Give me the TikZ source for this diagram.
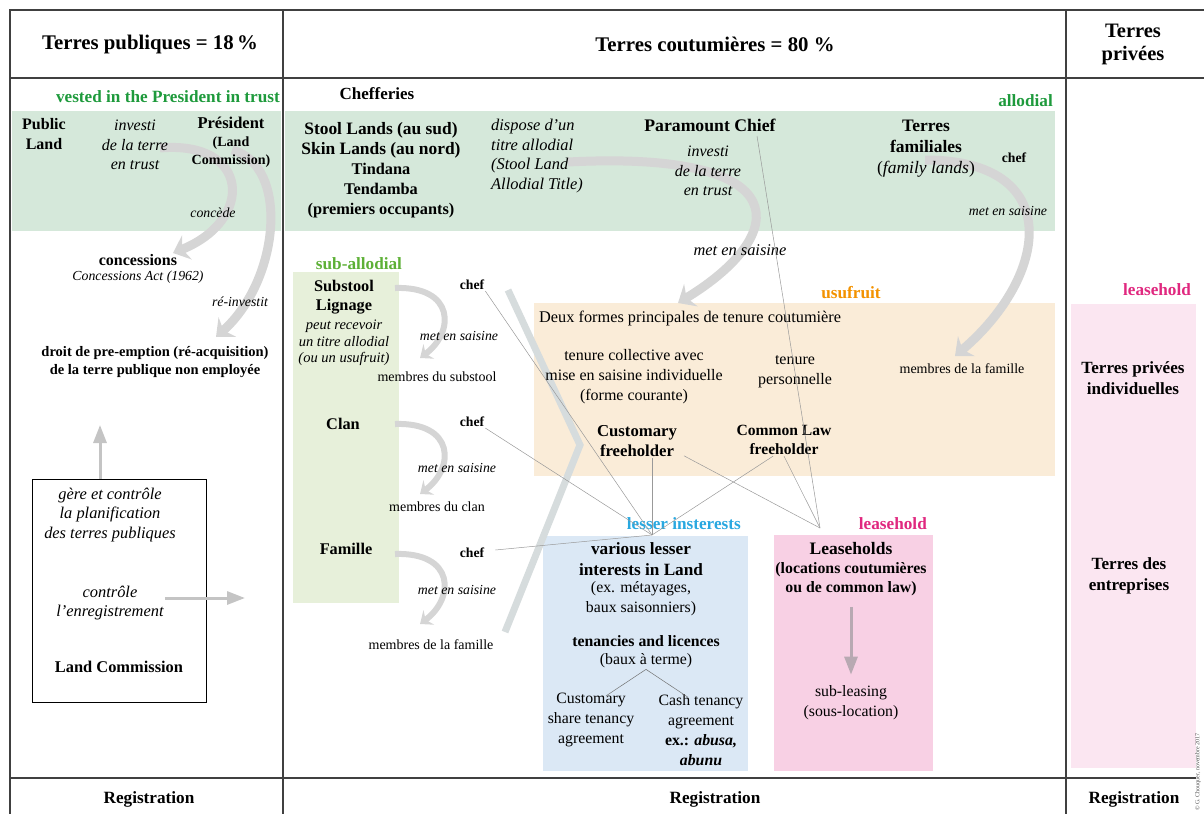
\documentclass[tikz,border=0pt]{standalone}
\usepackage{fontspec}
\setmainfont{Liberation Serif}
\usetikzlibrary{arrows.meta,positioning,calc}

\definecolor{bandgreen}{HTML}{D5E8DA}
\definecolor{subgreen}{HTML}{E7F0DA}
\definecolor{usucol}{HTML}{FAECD8}
\definecolor{lessbox}{HTML}{DBE8F5}
\definecolor{leasebox}{HTML}{F8D0E4}
\definecolor{privbox}{HTML}{FBE6F1}
\definecolor{allgreen}{HTML}{1E9A3C}
\definecolor{subtext}{HTML}{5DB036}
\definecolor{usutext}{HTML}{F39200}
\definecolor{lesstext}{HTML}{29A8E0}
\definecolor{leasetext}{HTML}{E0287F}
\definecolor{arcgray}{HTML}{D5D5D5}
\definecolor{ziggray}{HTML}{D6DCDD}
\definecolor{framegray}{HTML}{404040}
\definecolor{mauvegray}{HTML}{B8A9B2}
\definecolor{arrowgray}{HTML}{C4C4C4}

\begin{document}
\begin{tikzpicture}[x=1pt, y=-1pt, inner sep=1pt,
  hd/.style={font=\bfseries\fontsize{20.8}{23}\selectfont, align=center},
  bl/.style={font=\bfseries\fontsize{16.5}{19.5}\selectfont, align=center},
  rg/.style={font=\fontsize{15.8}{20}\selectfont, align=center},
  it/.style={font=\itshape\fontsize{16}{19.5}\selectfont, align=center},
  sm/.style={font=\itshape\fontsize{13.8}{15}\selectfont},
  mb/.style={font=\fontsize{14}{15}\selectfont},
  chf/.style={font=\bfseries\fontsize{13.7}{15}\selectfont},
  lab/.style={font=\bfseries\fontsize{17.2}{19}\selectfont},
  frame/.style={draw=framegray, line width=1.4pt},
  garc/.style={draw=arcgray, line width=9pt, -{Stealth[length=15pt,width=26pt,inset=5pt]}},
  sarc/.style={draw=arcgray, line width=6pt, -{Stealth[length=11pt,width=18pt,inset=4pt]}},
  garrow/.style={draw=arrowgray, line width=3pt, -{Triangle[length=18pt,width=13pt]}},
  thinline/.style={draw=black!40, line width=0.5pt}]
\useasboundingbox (0,0) rectangle (1204,814);

% fonds colores
\fill[bandgreen] (12,111) rectangle (281,231);
\fill[bandgreen] (285,111) rectangle (1055,231);
\fill[subgreen] (293,272) rectangle (399,603);
\fill[usucol] (534,303) rectangle (1055,476);
\fill[lessbox] (543,536) rectangle (748,771);
\fill[leasebox] (774,535) rectangle (933,771);
\fill[privbox] (1071,304) rectangle (1196,768);

% cadre du tableau
\draw[frame] (1204,10) -- (10,10) -- (10,814);
\draw[frame] (10,78) -- (1204,78);
\draw[frame] (283,10) -- (283,814);
\draw[frame] (1066,10) -- (1066,814);
\draw[frame] (10,778) -- (1196,778);

% grandes fleches grises
\coordinate (a1s) at (160,148); \coordinate (a1e) at (173,253);
\coordinate (a2s) at (232,150); \coordinate (a2e) at (216,337);
\coordinate (a3s) at (568,162); \coordinate (a3e) at (678,303);
\coordinate (a4s) at (925,160); \coordinate (a4e) at (955,356);
\draw[garc] (a1s) .. controls (250,140) and (255,220) .. (a1e);
\draw[garc] (a2s) .. controls (290,165) and (280,280) .. (a2e);
\draw[garc] (a3s) .. controls (800,150) and (790,235) .. (a3e);
\draw[garc] (a4s) .. controls (1065,160) and (1050,275) .. (a4e);
\foreach \y/\n in {288/A, 424/B, 554/C} {
  \coordinate (s\n) at (395,\y);
  \coordinate (e\n) at (420,\y+70);
  \draw[sarc] (s\n) .. controls (455,\y-2) and (455,\y+44) .. (e\n);
}
\draw[draw=ziggray, line width=7pt] (508,290) -- (580,445) -- (505,632);

% en-tetes
\node[hd] (hpub) at (150,44) {Terres publiques = 18\,\%};
\node[hd] (hcout) at (715,44) {Terres coutumières = 80 \%};
\node[hd, font=\bfseries\fontsize{20.5}{23}\selectfont] (hpriv) at (1133,44) {Terres\\privées};
\foreach \x/\n in {149/rega, 715/regb, 1134/regc}
  \node[bl, font=\bfseries\fontsize{17.2}{19}\selectfont] (\n) at (\x,799) {Registration};

% etiquettes de couleur
\node[lab, text=allgreen, anchor=east] (vested) at (281,97) {vested in the President in trust};
\node[lab, text=allgreen, anchor=east] (allod) at (1054,101) {allodial};
\node[lab, text=subtext] (suball) at (359,264) {sub-allodial};
\node[lab, text=usutext] (usuf) at (851,293) {usufruit};
\node[lab, text=lesstext, anchor=east] (lessl) at (742,524) {lesser insterests};
\node[lab, text=leasetext, anchor=east] (leasel) at (928,524) {leasehold};
\node[lab, text=leasetext] (leaser) at (1157,290) {leasehold};

% terres publiques
\node[bl, font=\bfseries\fontsize{16}{19.5}\selectfont] (publand) at (44,134) {Public\\Land};
\node[it] (pinvest) at (135,145) {investi\\de la terre\\en trust};
\node[bl, font=\bfseries\fontsize{16.5}{18}\selectfont] (pres) at (231,142)
  {Président\\{\fontsize{14}{17}\selectfont(Land}\\{\fontsize{14}{17}\selectfont Commission)}};
\node[sm] (concede) at (213,213) {concède};
\node[bl, font=\bfseries\fontsize{16}{19}\selectfont] (conc) at (138,260) {concessions};
\node[sm] (concact) at (138,277) {Concessions Act (1962)};
\node[sm] (reinv) at (240,302) {ré-investit};
\node[bl, font=\bfseries\fontsize{14.5}{18.5}\selectfont] (droit) at (155,362)
  {droit de pre-emption (ré-acquisition)\\de la terre publique non employée};
\node[draw, minimum width=174, minimum height=223] (lcbox) at (119,590.5) {};
\node[it, font=\itshape\fontsize{16.4}{19.5}\selectfont] (gere) at (110,515) {gère et contrôle\\la planification\\des terres publiques};
\node[it, font=\itshape\fontsize{16.4}{19.5}\selectfont] (ctrl) at (110,603) {contrôle\\l’enregistrement};
\node[bl, font=\bfseries\fontsize{16.4}{19}\selectfont] (lcname) at (119,667) {Land Commission};
\coordinate (droitlow) at (100,425);
\coordinate (regto) at (245,598);
\draw[garrow] (lcbox.north -| droitlow) -- (droitlow);
\draw[garrow] (ctrl.east |- regto) -- (regto);

% chefferies
\node[bl, font=\bfseries\fontsize{17}{19}\selectfont] (cheff) at (377,94) {Chefferies};
\node[bl, font=\bfseries\fontsize{17.4}{20}\selectfont] (stool) at (381,170)
  {Stool Lands (au sud)\\Skin Lands (au nord)\\{\fontsize{16.3}{20}\selectfont Tindana}\\{\fontsize{16.3}{20}\selectfont Tendamba}\\{\fontsize{16.3}{20}\selectfont(premiers occupants)}};
\node[it, align=left, font=\itshape\fontsize{16.4}{19.5}\selectfont] (dispose) at (537,156) {dispose d’un\\titre allodial\\(Stool Land\\Allodial Title)};
\node[bl, font=\bfseries\fontsize{17.7}{19}\selectfont] (para) at (710,125) {Paramount Chief};
\node[it] (pcinv) at (708,171) {investi\\de la terre\\en trust};
\node[it, font=\itshape\fontsize{16.4}{18}\selectfont] (pmet) at (740,250) {met en saisine};
\node[bl, font=\bfseries\fontsize{17.5}{21}\selectfont] (famil) at (926,149)
  {Terres\\familiales\\{\mdseries(\textit{family lands})}};
\node[chf] (fchef) at (1014,158) {chef};
\node[sm] (fmet) at (1008,211) {met en saisine};

% sub-allodial
\node[bl, font=\bfseries\fontsize{16.3}{19}\selectfont] (substool) at (344,297) {Substool\\Lignage};
\node[it, font=\itshape\fontsize{14.5}{16.5}\selectfont] (peut) at (344,343) {peut recevoir\\un titre allodial\\(ou un usufruit)};
\node[bl, font=\bfseries\fontsize{16.3}{19}\selectfont] (clan) at (343,424) {Clan};
\node[bl, font=\bfseries\fontsize{16.3}{19}\selectfont] (famille) at (346,549) {Famille};
\foreach \y/\n in {285/A, 422/B, 553/C} {
  \node[chf] (chef\n) at (472,\y) {chef};
}
\node[sm] (metA) at (459,336) {met en saisine};
\node[sm] (metB) at (457,468) {met en saisine};
\node[sm] (metC) at (457,590) {met en saisine};
\node[mb] (membA) at (437,377) {membres du substool};
\node[mb] (membB) at (437,507) {membres du clan};
\node[mb] (membC) at (431,645) {membres de la famille};

% usufruit
\node[rg, font=\fontsize{16.3}{20}\selectfont, anchor=west] (deux) at (538,318) {Deux formes principales de tenure coutumière};
\node[rg, font=\fontsize{16}{20}\selectfont] (tcoll) at (634,377) {tenure collective avec\\mise en saisine individuelle\\(forme courante)};
\node[rg, font=\fontsize{16}{20}\selectfont] (tpers) at (795,372) {tenure\\personnelle};
\node[mb] (membfam) at (962,369) {membres de la famille};
\node[bl, font=\bfseries\fontsize{16.7}{20}\selectfont] (custfree) at (637,441) {Customary\\freeholder};
\node[bl, font=\bfseries\fontsize{15.6}{19.5}\selectfont] (comfree) at (784,440) {Common Law\\freeholder};

% lesser interests
\node[bl, font=\bfseries\fontsize{17.2}{21}\selectfont] (various) at (641,559) {various lesser\\interests in Land};
\node[rg] (exmet) at (641,599) {(ex. métayages,\\baux saisonniers)};
\node[bl, font=\bfseries\fontsize{15.8}{17}\selectfont] (tenan) at (646,641) {tenancies and licences};
\node[rg] (bauxterme) at (646,661) {(baux à terme)};
\node[rg] (custshare) at (591,720) {Customary\\share tenancy\\agreement};
\node[rg] (cash) at (701,730) {Cash tenancy\\agreement\\\textbf{ex.: \textit{abusa,}}\\\textbf{\textit{abunu}}};
\draw[thinline, draw=black!55] (bauxterme.south) -- ($(custshare.north)+(15,4)$);
\draw[thinline, draw=black!55] (bauxterme.south) -- ($(cash.north)+(-13,4)$);

% leasehold
\node[bl, font=\bfseries\fontsize{17.5}{19}\selectfont] (leaseh) at (851,569)
  {Leaseholds\\{\fontsize{15.8}{19}\selectfont(locations coutumières}\\{\fontsize{15.8}{19}\selectfont ou de common law)}};
\node[rg] (subleas) at (851,703) {sub-leasing\\(sous-location)};
\draw[garrow, draw=mauvegray] ($(leaseh.south)+(0,10)$) -- ($(subleas.north)+(0,-10)$);

% terres privees
\node[bl, font=\bfseries\fontsize{17.1}{21}\selectfont] (tpi) at (1133,378) {Terres privées\\individuelles};
\node[bl, font=\bfseries\fontsize{17.1}{21}\selectfont] (tde) at (1129,576) {Terres des\\entreprises};
\node[rotate=90, font=\fontsize{6}{7}\selectfont, text=black!70] (copyr) at (1198,772) {© G. Chouquer, novembre 2017};

% liens fins
\coordinate (lesspt) at (652,535);
\coordinate (leasept) at (820,528);
\coordinate (parapt) at (757,136);
\draw[thinline] (chefA.south east) -- (lesspt);
\draw[thinline] (chefB.south east) -- (lesspt);
\draw[thinline] ($(chefC.east)+(10,-3)$) -- (lesspt);
\draw[thinline] (custfree.south -| lesspt) -- (lesspt);
\draw[thinline] ($(custfree.south)+(47,-2)$) -- (leasept);
\draw[thinline] ($(comfree.south)+(-11,0)$) -- (lesspt);
\draw[thinline] (comfree.south) -- (leasept);
\draw[thinline] (parapt) -- (leasept);
\end{tikzpicture}
\end{document}
